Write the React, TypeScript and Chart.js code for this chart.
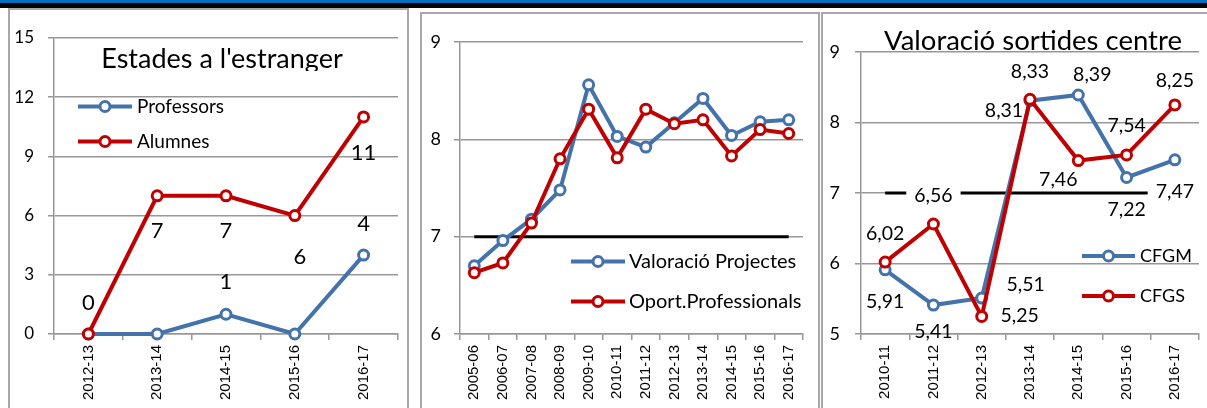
import React, { useEffect, useRef } from 'react';
import { Chart, registerables } from 'chart.js';

Chart.register(...registerables);

// ---------- DATA ----------
const p1Categories = ['2012-13', '2013-14', '2014-15', '2015-16', '2016-17'];
const p1Professors = [0, 0, 1, 0, 4];
const p1Alumnes = [0, 7, 7, 6, 11];
const p1Title = "Estades a l'estranger";

const p2Categories = ['2005-06', '2006-07', '2007-08', '2008-09', '2009-10', '2010-11', '2011-12', '2012-13', '2013-14', '2014-15', '2015-16', '2016-17'];
const p2Projectes = [6.7, 6.96, 7.18, 7.48, 8.56, 8.03, 7.92, 8.17, 8.42, 8.04, 8.18, 8.2];
const p2Oport = [6.63, 6.73, 7.14, 7.8, 8.31, 7.81, 8.31, 8.16, 8.2, 7.83, 8.1, 8.06];
const p2Reference = 7;

const p3Categories = ['2010-11', '2011-12', '2012-13', '2013-14', '2014-15', '2015-16', '2016-17'];
const p3CFGM = [5.91, 5.41, 5.51, 8.31, 8.39, 7.22, 7.47];
const p3CFGS = [6.02, 6.56, 5.25, 8.33, 7.46, 7.54, 8.25];
const p3Reference = 7;
const p3Title = 'Valoració sortides centre';

// ---------- STYLE ----------
const BLUE = '#4472AA';
const RED = '#C00000';
const GRID = '#979797';
const FONT = 'Lato';
const AXFONT = '"Liberation Sans", Arial, sans-serif';

// label offsets (px) relative to the point: [dx, dy, whiteBackground?]; null = no label
const p1ProfLabelOffsets = [null, null, [0, -32], null, [0, -31]];
const p1AlumLabelOffsets = [[0, -31], [0, 35], [0, 35], [5, 41], [0, 36]];
const p3CFGMLabelOffsets = [[0, 32], [0, 27], [44, -13], [-26, 10], [14, -20], [0, 32], [0, 32, 1]];
const p3CFGSLabelOffsets = [[0, -28], [0, -28, 1], [38, -1], [0, -28], [-20, 19], [0, -29], [0, -24]];

const fmtInt = (v: number) => String(v);
const fmtComma = (v: number) => v.toFixed(2).replace('.', ',');

const overlayPlugin = {
  id: 'overlay',
  afterDraw(chart: any) {
    const opts = chart.config.options.plugins.overlay;
    if (!opts) return;
    const ctx = chart.ctx;
    const ox = opts.originX || 0;
    const oy = opts.originY || 0;
    const xs = chart.scales.x;
    const ys = chart.scales.y;
    ctx.save();

    // y tick labels
    ctx.font = `${opts.yTickSize}px ${FONT}`;
    ctx.fillStyle = '#000';
    ctx.textAlign = 'right';
    ctx.textBaseline = 'middle';
    ys.ticks.forEach((t: any) => {
      ctx.fillText(String(t.value), ys.right - opts.yTickGap, ys.getPixelForValue(t.value));
    });

    // x tick labels (rotated, reading bottom-to-top)
    ctx.font = `15px ${AXFONT}`;
    ctx.textAlign = 'right';
    ctx.textBaseline = 'middle';
    xs.ticks.forEach((_t: any, i: number) => {
      const x = xs.getPixelForTick(i);
      ctx.save();
      ctx.translate(x, xs.top + 11);
      ctx.rotate(-Math.PI / 2);
      ctx.fillText(String(chart.data.labels[i]), 0, 0);
      ctx.restore();
    });

    // data labels
    (opts.labels || []).forEach((l: any) => {
      const meta = chart.getDatasetMeta(l.dataset);
      const ds = chart.data.datasets[l.dataset];
      meta.data.forEach((pt: any, i: number) => {
        const off = l.offsets[i];
        if (!off) return;
        const text = l.format(ds.data[i]);
        const x = pt.x + off[0];
        const y = pt.y + off[1];
        ctx.font = `${l.size}px ${FONT}`;
        ctx.textAlign = 'center';
        ctx.textBaseline = 'middle';
        if (off[2]) {
          const w = ctx.measureText(text).width;
          ctx.fillStyle = '#fff';
          ctx.fillRect(x - w / 2 - 8, y - l.size * 0.5, w + 16, l.size);
        }
        ctx.fillStyle = '#000';
        ctx.fillText(text, x, y);
      });
    });

    // title
    if (opts.title) {
      const t = opts.title;
      ctx.save();
      if (t.clipBottom) {
        ctx.beginPath();
        ctx.rect(0, 0, chart.width, t.clipBottom - oy);
        ctx.clip();
      }
      ctx.font = `${t.size}px ${FONT}`;
      ctx.fillStyle = '#000';
      ctx.textAlign = 'center';
      ctx.textBaseline = 'alphabetic';
      ctx.fillText(t.text, t.x - ox, t.y - oy);
      ctx.restore();
    }

    // legend
    if (opts.legend) {
      const lg = opts.legend;
      lg.items.forEach((it: any) => {
        const ds = chart.data.datasets[it.dataset];
        const y = it.y - oy;
        const x1 = lg.x1 - ox;
        const x2 = lg.x2 - ox;
        ctx.strokeStyle = ds.borderColor;
        ctx.lineWidth = 4;
        ctx.beginPath();
        ctx.moveTo(x1, y);
        ctx.lineTo(x2, y);
        ctx.stroke();
        ctx.beginPath();
        ctx.arc((x1 + x2) / 2, y, 5, 0, Math.PI * 2);
        ctx.fillStyle = '#fff';
        ctx.fill();
        ctx.lineWidth = 3;
        ctx.stroke();
        ctx.font = `${lg.size}px ${FONT}`;
        ctx.fillStyle = '#000';
        ctx.textAlign = 'left';
        ctx.textBaseline = 'middle';
        ctx.fillText(ds.label, lg.textX - ox, y);
      });
    }
    ctx.restore();
  },
};

function seriesDataset(label: string, data: number[], color: string, order: number) {
  return {
    label,
    data,
    borderColor: color,
    backgroundColor: '#fff',
    borderWidth: 4,
    pointRadius: 5,
    pointBorderWidth: 3,
    pointBackgroundColor: '#fff',
    pointBorderColor: color,
    pointHoverRadius: 5,
    tension: 0,
    clip: false,
    order,
  };
}

function refDataset(value: number, n: number) {
  return {
    label: 'ref',
    data: new Array(n).fill(value),
    borderColor: '#000',
    borderWidth: 3,
    pointRadius: 0,
    pointHoverRadius: 0,
    clip: false,
    order: 5,
  };
}

function makeOptions(cfg: any) {
  return {
    responsive: false,
    animation: false,
    devicePixelRatio: 1,
    events: [],
    layout: { padding: { left: 0, right: cfg.padRight, top: cfg.padTop, bottom: 0 } },
    plugins: {
      legend: { display: false },
      tooltip: { enabled: false },
      title: { display: false },
      overlay: cfg.overlay,
    },
    scales: {
      x: {
        type: 'category',
        offset: true,
        grid: { drawOnChartArea: false, offset: true, tickLength: 6, color: GRID, lineWidth: 1.5 },
        border: { color: GRID, width: 1.5 },
        ticks: { display: false, autoSkip: false },
        afterFit: (s: any) => {
          s.height = cfg.xHeight;
        },
      },
      y: {
        min: cfg.min,
        max: cfg.max,
        ticks: { display: false, stepSize: cfg.step },
        grid: { color: GRID, lineWidth: 1.5, tickLength: 6 },
        border: { color: GRID, width: 1.5 },
        afterFit: (s: any) => {
          s.width = cfg.yWidth;
        },
      },
    },
  };
}

const C1 = { left: 10, top: 10, width: 397, height: 398 };
const C2 = { left: 423, top: 14, width: 395, height: 394 };
const C3 = { left: 824, top: 14, width: 383, height: 394 };

function ChartCanvas({ box, build }: { box: any; build: (c: HTMLCanvasElement) => Chart }) {
  const ref = useRef<HTMLCanvasElement>(null);
  useEffect(() => {
    if (!ref.current) return;
    const ch = build(ref.current);
    return () => ch.destroy();
  }, []);
  return (
    <canvas
      ref={ref}
      width={box.width}
      height={box.height}
      style={{ position: 'absolute', left: box.left, top: box.top, width: box.width, height: box.height }}
    />
  );
}

function build1(canvas: HTMLCanvasElement) {
  return new Chart(canvas, {
    type: 'line',
    data: {
      labels: p1Categories,
      datasets: [
        seriesDataset('Alumnes', p1Alumnes, RED, 0),
        seriesDataset('Professors', p1Professors, BLUE, 1),
      ],
    },
    options: makeOptions({
      padRight: 9,
      padTop: 28,
      xHeight: 74,
      yWidth: 44,
      min: 0,
      max: 15,
      step: 3,
      overlay: {
        originX: C1.left,
        originY: C1.top,
        yTickSize: 17,
        yTickGap: 20,
        labels: [
          { dataset: 0, offsets: p1AlumLabelOffsets, format: fmtInt, size: 22 },
          { dataset: 1, offsets: p1ProfLabelOffsets, format: fmtInt, size: 22 },
        ],
        title: { text: p1Title, x: 222, y: 68, size: 27, clipBottom: 71 },
        legend: {
          x1: 78,
          x2: 132,
          textX: 137,
          size: 19,
          items: [
            { dataset: 1, y: 106.5 },
            { dataset: 0, y: 141.5 },
          ],
        },
      },
    }) as any,
    plugins: [overlayPlugin as any],
  });
}

function build2(canvas: HTMLCanvasElement) {
  return new Chart(canvas, {
    type: 'line',
    data: {
      labels: p2Categories,
      datasets: [
        seriesDataset('Oport.Professionals', p2Oport, RED, 0),
        seriesDataset('Valoració Projectes', p2Projectes, BLUE, 1),
        refDataset(p2Reference, p2Categories.length),
      ],
    },
    options: makeOptions({
      padRight: 15,
      padTop: 28,
      xHeight: 74,
      yWidth: 37,
      min: 6,
      max: 9,
      step: 1,
      overlay: {
        originX: C2.left,
        originY: C2.top,
        yTickSize: 18,
        yTickGap: 19,
        labels: [],
        legend: {
          x1: 571,
          x2: 625,
          textX: 629,
          size: 20,
          items: [
            { dataset: 1, y: 261.5 },
            { dataset: 0, y: 301.5 },
          ],
        },
      },
    }) as any,
    plugins: [overlayPlugin as any],
  });
}

function build3(canvas: HTMLCanvasElement) {
  return new Chart(canvas, {
    type: 'line',
    data: {
      labels: p3Categories,
      datasets: [
        seriesDataset('CFGS', p3CFGS, RED, 0),
        seriesDataset('CFGM', p3CFGM, BLUE, 1),
        refDataset(p3Reference, p3Categories.length),
      ],
    },
    options: makeOptions({
      padRight: 5,
      padTop: 38,
      xHeight: 74,
      yWidth: 37,
      min: 5,
      max: 9,
      step: 1,
      overlay: {
        originX: C3.left,
        originY: C3.top,
        yTickSize: 18,
        yTickGap: 21,
        labels: [
          { dataset: 1, offsets: p3CFGMLabelOffsets, format: fmtComma, size: 19.5 },
          { dataset: 0, offsets: p3CFGSLabelOffsets, format: fmtComma, size: 19.5 },
        ],
        title: { text: p3Title, x: 1033, y: 50, size: 27.5 },
        legend: {
          x1: 1082,
          x2: 1135,
          textX: 1140,
          size: 18,
          items: [
            { dataset: 1, y: 256 },
            { dataset: 0, y: 296 },
          ],
        },
      },
    }) as any,
    plugins: [overlayPlugin as any],
  });
}

const panelBorder = (left: number, top: number, width: number): React.CSSProperties => ({
  position: 'absolute',
  left,
  top,
  width,
  height: 500,
  border: '2px solid #A8A8A8',
  boxSizing: 'border-box',
});

export default function App() {
  return (
    <div
      style={{
        position: 'absolute',
        left: 0,
        top: 0,
        width: 1207,
        height: 408,
        overflow: 'hidden',
        background: '#fff',
      }}
    >
      <div style={{ position: 'absolute', left: 0, top: 0, width: 1207, height: 3, background: '#0070C0' }} />
      <div style={{ position: 'absolute', left: 0, top: 3, width: 1207, height: 4.5, background: '#000' }} />
      <div style={panelBorder(8, 8, 401)} />
      <div style={panelBorder(420, 12, 400)} />
      <div style={panelBorder(821, 12, 400)} />
      <ChartCanvas box={C1} build={build1} />
      <ChartCanvas box={C2} build={build2} />
      <ChartCanvas box={C3} build={build3} />
    </div>
  );
}
